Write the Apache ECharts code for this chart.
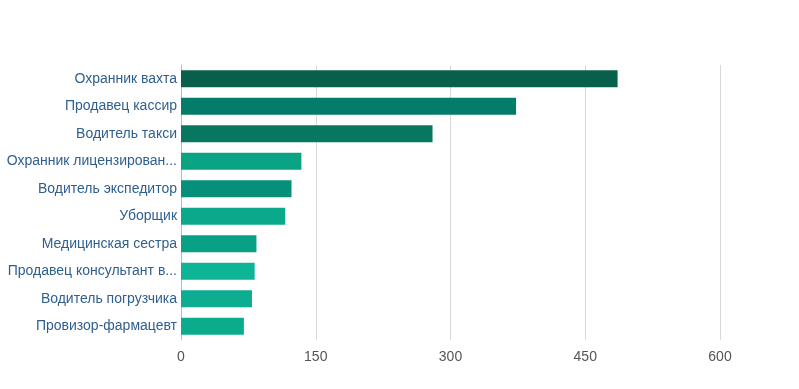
<!DOCTYPE html>
<html>
<head>
<meta charset="utf-8">
<script src="https://cdn.jsdelivr.net/npm/echarts@6/dist/echarts.min.js"></script>
<style>html,body{margin:0;padding:0;background:#fff;}#c{width:799px;height:389px;}</style>
</head>
<body>
<div id="c"></div>
<script>
var categories = ["Охранник вахта","Продавец кассир","Водитель такси","Охранник лицензирован...","Водитель экспедитор","Уборщик","Медицинская сестра","Продавец консультант в...","Водитель погрузчика","Провизор-фармацевт"];
var values = [486, 373, 280, 134, 123, 116, 84, 82, 79, 70];
var barColors = ["#08604b","#037c69","#08775f","#0aa383","#079079","#0aa98c","#09a186","#0db496","#0cad90","#0bab8e"];
var xTicks = [0, 150, 300, 450, 600];

var chart = echarts.init(document.getElementById('c'));
chart.setOption({
  animation: false,
  backgroundColor: '#fff',
  grid: {left: 181, right: 79, top: 65, bottom: 49, containLabel: false},
  xAxis: {
    type: 'value', min: xTicks[0], max: xTicks[xTicks.length-1], interval: 150,
    axisLine: {show: false}, axisTick: {show: false},
    splitLine: {lineStyle: {color: '#d9d9d9', width: 1}},
    axisLabel: {color: '#555', fontSize: 14, fontFamily: 'Liberation Sans, Arial', margin: 10}
  },
  yAxis: {
    type: 'category', inverse: true, data: categories,
    axisLine: {show: true, lineStyle: {color: '#bbb'}},
    axisTick: {show: false},
    axisLabel: {color: '#2f5f8e', fontSize: 14, fontFamily: 'Liberation Sans, Arial', margin: 4}
  },
  series: [{
    type: 'bar', barWidth: 17,
    data: values.map(function(v, i){ return {value: v, itemStyle: {color: barColors[i]}}; })
  }]
});
</script>
</body>
</html>
